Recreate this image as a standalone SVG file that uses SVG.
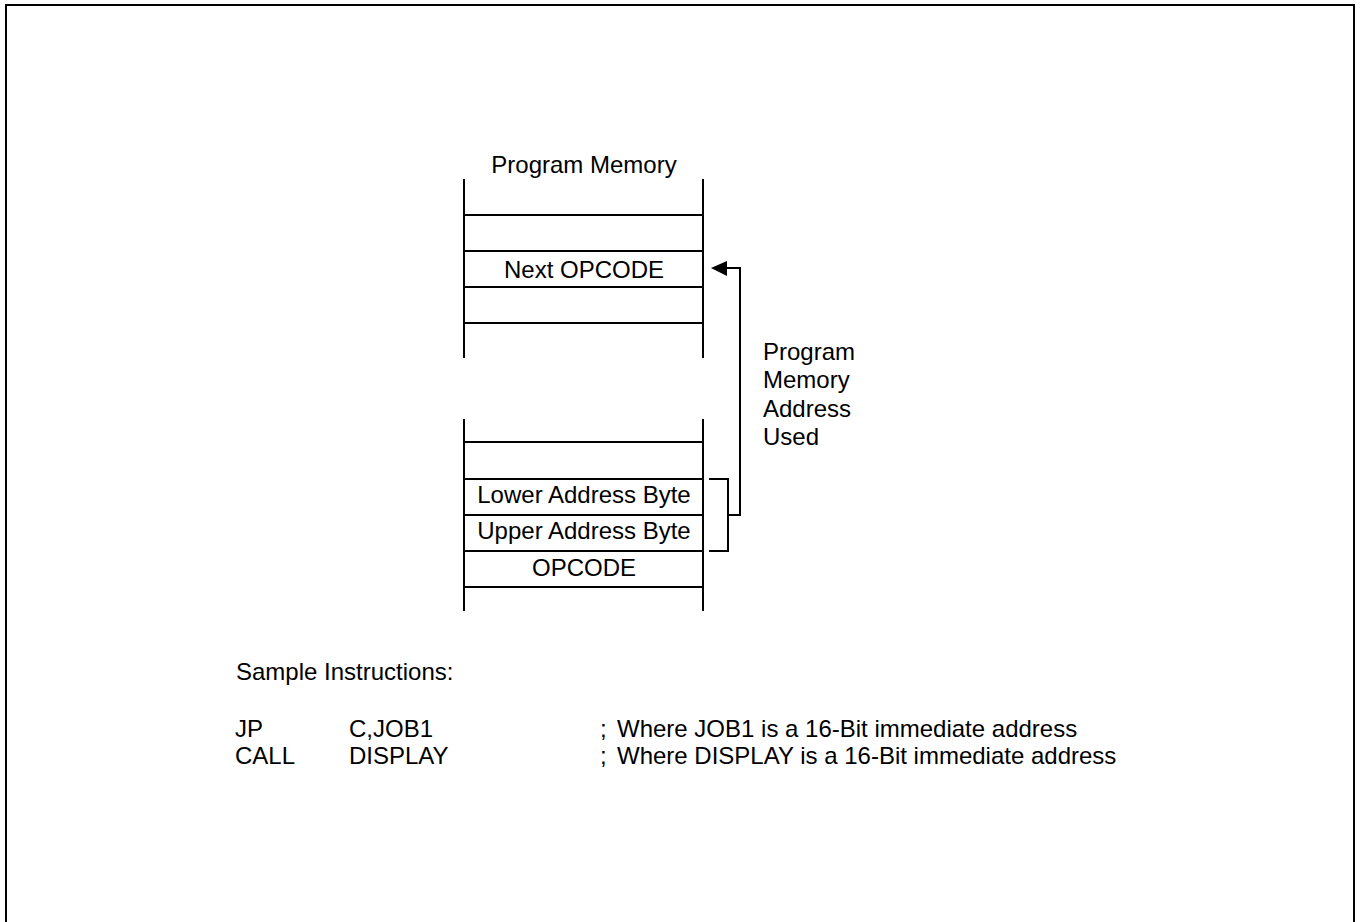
<svg xmlns="http://www.w3.org/2000/svg" width="1360" height="922" viewBox="0 0 1360 922">
  <style>
    .ln { stroke: #000; stroke-width: 2; fill: none; }
    .head { fill: #000; stroke: none; }
    .t { font-family: "Liberation Sans", Arial, sans-serif; font-size: 24px; fill: #000; }
    .c { text-anchor: middle; }
  </style>
  <rect width="1360" height="922" fill="#fff"/>

  <!-- page frame (open at the bottom) -->
  <path class="ln" d="M6,930 V5 H1354 V930"/>

  <!-- upper memory window -->
  <g id="memory-top">
    <text class="t c" x="584" y="173">Program Memory</text>
    <path class="ln" d="M464,179 V358 M703,179 V358"/>
    <path class="ln" d="M464,215 H703 M464,251 H703 M464,287 H703 M464,323 H703"/>
    <text class="t c" x="584" y="278">Next OPCODE</text>
  </g>

  <!-- lower memory window -->
  <g id="memory-bottom">
    <path class="ln" d="M464,419 V611 M703,419 V611"/>
    <path class="ln" d="M464,442 H703 M464,479 H703 M464,515 H703 M464,551 H703 M464,587 H703"/>
    <text class="t c" x="584" y="503">Lower Address Byte</text>
    <text class="t c" x="584" y="539">Upper Address Byte</text>
    <text class="t c" x="584" y="576">OPCODE</text>
  </g>

  <!-- address bracket and jump arrow -->
  <g id="connectors">
    <path class="ln" d="M709,479 H728 V551 H709 M728,515 H740 V268 H726"/>
    <polygon class="head" points="711,268 727,261 727,276"/>
  </g>

  <g id="address-label">
    <text class="t" x="763" y="360">Program</text>
    <text class="t" x="763" y="388">Memory</text>
    <text class="t" x="763" y="417">Address</text>
    <text class="t" x="763" y="445">Used</text>
  </g>

  <!-- sample instructions -->
  <g id="samples">
    <text class="t" x="236" y="680">Sample Instructions:</text>
    <text class="t" x="235" y="737">JP</text>
    <text class="t" x="349" y="737">C,JOB1</text>
    <text class="t" x="600" y="737">;</text>
    <text class="t" x="617" y="737">Where JOB1 is a 16-Bit immediate address</text>
    <text class="t" x="235" y="764">CALL</text>
    <text class="t" x="349" y="764">DISPLAY</text>
    <text class="t" x="600" y="764">;</text>
    <text class="t" x="617" y="764">Where DISPLAY is a 16-Bit immediate address</text>
  </g>
</svg>
